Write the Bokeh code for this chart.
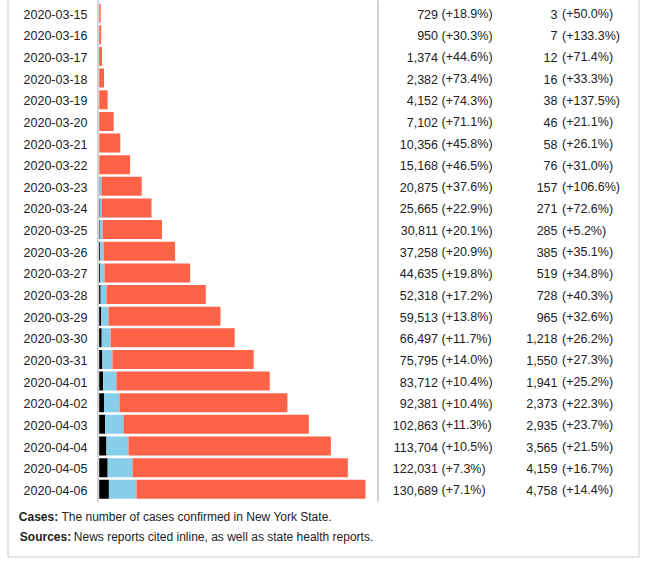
from bokeh.plotting import figure
from bokeh.models import Range1d
from bokeh.embed import file_html
from bokeh.resources import INLINE
from bokeh.core.properties import value

# ---------------- data ----------------
dates = ["2020-03-15", "2020-03-16", "2020-03-17", "2020-03-18", "2020-03-19",
         "2020-03-20", "2020-03-21", "2020-03-22", "2020-03-23", "2020-03-24",
         "2020-03-25", "2020-03-26", "2020-03-27", "2020-03-28", "2020-03-29",
         "2020-03-30", "2020-03-31", "2020-04-01", "2020-04-02", "2020-04-03",
         "2020-04-04", "2020-04-05", "2020-04-06"]
cases = [729, 950, 1374, 2382, 4152, 7102, 10356, 15168, 20875, 25665, 30811,
         37258, 44635, 52318, 59513, 66497, 75795, 83712, 92381, 102863, 113704,
         122031, 130689]
case_pct = ["+18.9%", "+30.3%", "+44.6%", "+73.4%", "+74.3%", "+71.1%", "+45.8%",
            "+46.5%", "+37.6%", "+22.9%", "+20.1%", "+20.9%", "+19.8%", "+17.2%",
            "+13.8%", "+11.7%", "+14.0%", "+10.4%", "+10.4%", "+11.3%", "+10.5%",
            "+7.3%", "+7.1%"]
deaths = [3, 7, 12, 16, 38, 46, 58, 76, 157, 271, 285, 385, 519, 728, 965, 1218,
          1550, 1941, 2373, 2935, 3565, 4159, 4758]
death_pct = ["+50.0%", "+133.3%", "+71.4%", "+33.3%", "+137.5%", "+21.1%", "+26.1%",
             "+31.0%", "+106.6%", "+72.6%", "+5.2%", "+35.1%", "+34.8%", "+40.3%",
             "+32.6%", "+26.2%", "+27.3%", "+25.2%", "+22.3%", "+23.7%", "+21.5%",
             "+16.7%", "+14.4%"]
recovered = [0, 0, 0, 0, 0, 0, 0, 0, 900, 900, 1350, 1740, 2100, 2860, 3620, 4330,
             4990, 6560, 7600, 9010, 10840, 12200, 13570]
caption_lines = [("Cases:", "The number of cases confirmed in New York State."),
                 ("Sources:", "News reports cited inline, as well as state health reports.")]

# ---------------- layout ----------------
W, H = 640, 558
OFF = 0            # canvas origin in picture px
X0 = 98.7          # picture px where 0 cases sits
CPP = 490.8        # cases per pixel
R0, RH = 12.7, 21.64   # picture px of first row centre, row pitch


def px2x(px):
    return (px - X0) * CPP


def py2y(py):
    return (py - R0) / RH


n = len(dates)
idx = list(range(n))
dr = [d + r for d, r in zip(deaths, recovered)]

p = figure(width=W, height=H, output_backend="svg", toolbar_location=None,
           x_range=Range1d(px2x(OFF), px2x(OFF + W)),
           y_range=Range1d(py2y(OFF + H), py2y(OFF)),
           x_axis_location=None, y_axis_location=None,
           min_border=0, outline_line_color=None,
           background_fill_color="white", border_fill_color="white")
p.xgrid.visible = False
p.ygrid.visible = False

BH = 0.878
p.hbar(y=idx, left=0, right=deaths, height=BH, fill_color="black", line_color=None)
p.hbar(y=idx, left=deaths, right=dr, height=BH, fill_color="#87CEEB", line_color=None)
p.hbar(y=idx, left=dr, right=cases, height=BH, fill_color="#FF6347", line_color=None)

# frame lines
p.segment(x0=[px2x(97.5), px2x(377.5)], y0=[py2y(-5)] * 2,
          x1=[px2x(97.5), px2x(377.5)], y1=[py2y(501)] * 2,
          line_color="#a2a9b1", line_width=1)
p.line(x=[px2x(7.5), px2x(7.5), px2x(638.5), px2x(638.5)],
       y=[py2y(-5), py2y(556.5), py2y(556.5), py2y(-5)],
       line_color="#c8ccd1", line_width=1)

FONT = value("Liberation Sans")
TC = "#202122"
ty = [i + 1.0 / RH for i in idx]

p.text(x=[px2x(87)] * n, y=ty, text=dates, text_align="right",
       text_baseline="middle", text_font=FONT, text_font_size="12.5px", text_color=TC)
p.text(x=[px2x(437.5)] * n, y=ty, text=[f"{c:,}" for c in cases], text_align="right",
       text_baseline="middle", text_font=FONT, text_font_size="12.5px", text_color=TC)
p.text(x=[px2x(441)] * n, y=ty, text=[f"({s})" for s in case_pct], text_align="left",
       text_baseline="middle", text_font=FONT, text_font_size="12.5px", text_color=TC)
p.text(x=[px2x(557)] * n, y=ty, text=[f"{d:,}" for d in deaths], text_align="right",
       text_baseline="middle", text_font=FONT, text_font_size="12.5px", text_color=TC)
p.text(x=[px2x(561.5)] * n, y=ty, text=[f"({s})" for s in death_pct], text_align="left",
       text_baseline="middle", text_font=FONT, text_font_size="12.5px", text_color=TC)

# caption
cap_y = [py2y(516), py2y(536)]
bold_x = [px2x(18.3), px2x(19.3)]
norm_x = [px2x(61), px2x(73.3)]
p.text(x=bold_x, y=cap_y, text=[c[0] for c in caption_lines], text_align="left",
       text_baseline="middle", text_font=FONT, text_font_size="12px",
       text_font_style="bold", text_color=TC)
p.text(x=norm_x, y=cap_y, text=[c[1] for c in caption_lines], text_align="left",
       text_baseline="middle", text_font=FONT, text_font_size="12px", text_color=TC)

open("out.html", "w").write(file_html(p, INLINE))
